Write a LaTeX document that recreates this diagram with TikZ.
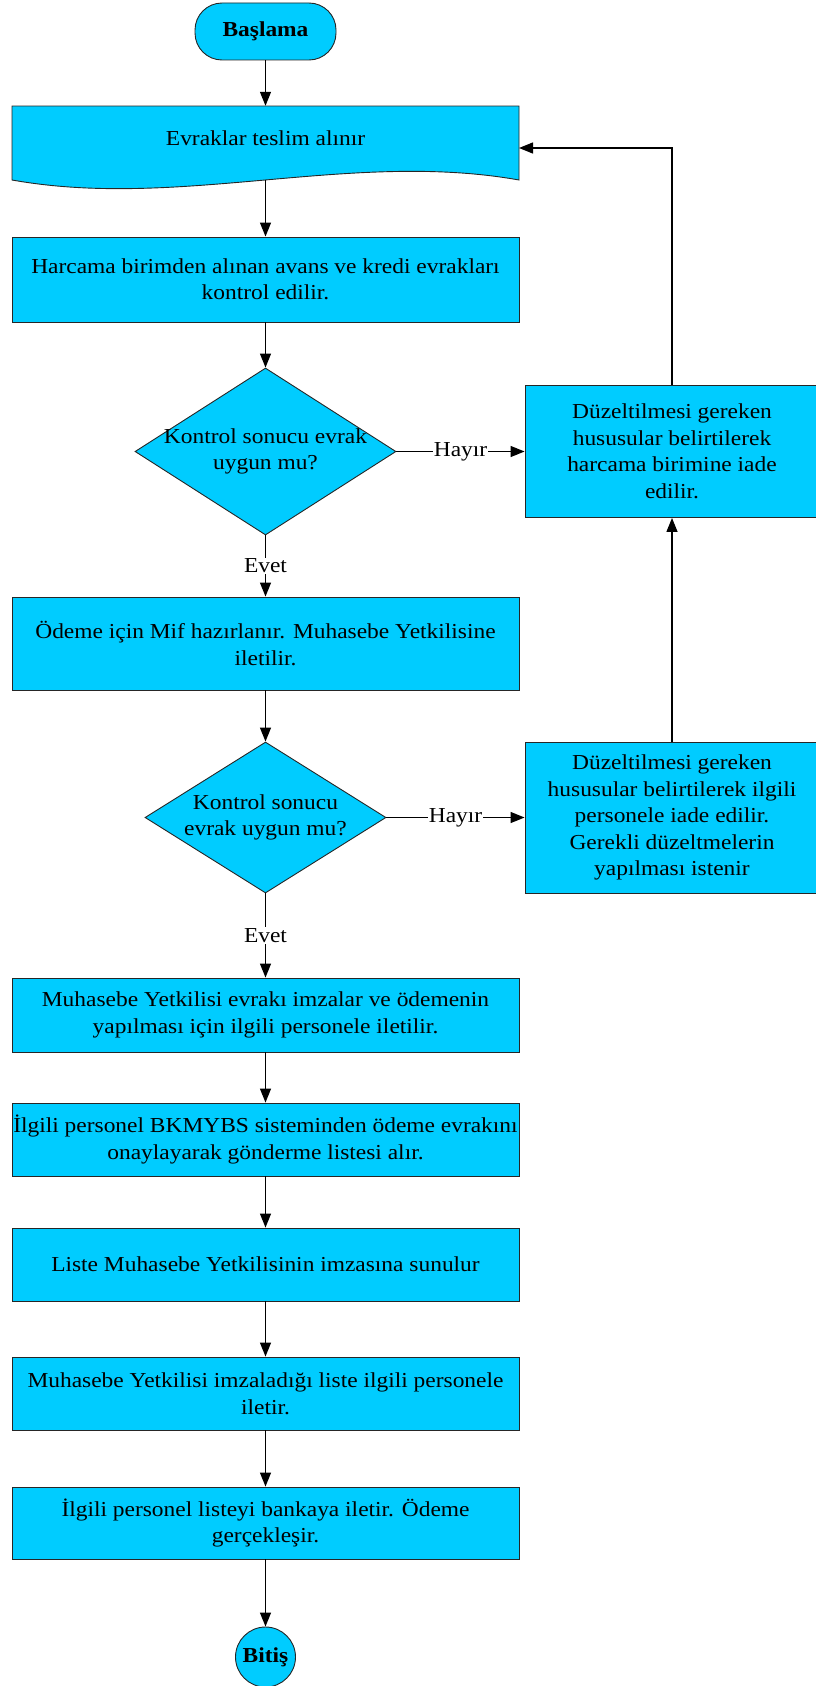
\documentclass[tikz,border=0pt]{standalone}
\usepackage{fontspec}
\setmainfont[FakeStretch=1.1]{Liberation Serif}
\usetikzlibrary{arrows.meta,shapes.geometric}
\definecolor{boxblue}{HTML}{00CCFF}
\definecolor{edge}{HTML}{262626}

\begin{document}
\begin{tikzpicture}[x=1pt,y=-1pt,
    font=\fontsize{21.3}{26.5}\selectfont,
    base/.style={draw=edge,line width=0.9pt,fill=boxblue,align=center,inner sep=0pt},
    proc/.style={base,rectangle,minimum width=507pt,minimum height=#1},
    side/.style={base,rectangle,minimum width=294pt,minimum height=#1},
    arr/.style={-{Triangle[length=14pt,width=11pt]},line width=1.3pt},
    lbl/.style={fill=white,inner sep=1pt}]
  \useasboundingbox (0,0) rectangle (816,1686);

  % main column
  \node[base,rectangle,rounded corners=27pt,minimum width=141pt,minimum height=57pt]
    (start) at (265.5,31.5) {\textbf{Başlama}};
  \path[base] (12,106) -- (519,106) -- (519,180)
    .. controls (350,150) and (180,210) .. (12,180) -- cycle;
  \node[minimum width=507pt,minimum height=64pt,inner sep=0pt] (doc) at (265.5,138)
    {Evraklar teslim alınır};
  \coordinate (docb) at (265.5,180);
  \coordinate (docin) at (519,148);
  \node[proc=85pt] (b2) at (265.5,279.5)
    {Harcama birimden alınan avans ve kredi evrakları\\kontrol edilir.};
  \node[base,diamond,minimum width=261pt,minimum height=167pt,
    label={[align=center]center:Kontrol sonucu evrak\\uygun mu?}] (d1) at (265.5,451.5) {};
  \node[proc=93pt] (b3) at (265.5,643.5)
    {Ödeme için Mif hazırlanır. Muhasebe Yetkilisine\\iletilir.};
  \node[base,diamond,minimum width=241pt,minimum height=151pt,
    label={[align=center]center:Kontrol sonucu\\evrak uygun mu?}] (d2) at (265.5,817.5) {};
  \node[proc=74pt] (b4) at (265.5,1015)
    {Muhasebe Yetkilisi evrakı imzalar ve ödemenin\\yapılması için ilgili personele iletilir.};
  \node[proc=73pt] (b5) at (265.5,1139.5)
    {İlgili personel BKMYBS sisteminden ödeme evrakını\\onaylayarak gönderme listesi alır.};
  \node[proc=73pt] (b6) at (265.5,1264.5)
    {Liste Muhasebe Yetkilisinin imzasına sunulur};
  \node[proc=73pt] (b7) at (265.5,1393.5)
    {Muhasebe Yetkilisi imzaladığı liste ilgili personele\\iletir.};
  \node[proc=72pt] (b8) at (265.5,1523)
    {İlgili personel listeyi bankaya iletir. Ödeme\\gerçekleşir.};
  \node[base,circle,minimum size=60pt] (stop) at (265.5,1657) {\textbf{Bitiş}};

  % right column
  \node[side=132pt] (rb1) at (672,451.5)
    {Düzeltilmesi gereken\\hususular belirtilerek\\harcama birimine iade\\edilir.};
  \node[side=151pt] (rb2) at (672,817.5)
    {Düzeltilmesi gereken\\hususular belirtilerek ilgili\\personele iade edilir.\\Gerekli düzeltmelerin\\yapılması istenir};

  \draw[arr] (start) -- (doc);
  \draw[arr] (docb) -- (b2);
  \draw[arr] (b2) -- (d1);
  \draw[arr] (d1) -- node[lbl]{Hayır} (rb1);
  \draw[arr] (d1) -- node[lbl]{Evet} (b3);
  \draw[arr] (b3) -- (d2);
  \draw[arr] (d2) -- node[lbl]{Hayır} (rb2);
  \draw[arr] (rb2) -- (rb1);
  \draw[arr] (rb1) |- (docin);
  \draw[arr] (d2) -- node[lbl]{Evet} (b4);
  \draw[arr] (b4) -- (b5);
  \draw[arr] (b5) -- (b6);
  \draw[arr] (b6) -- (b7);
  \draw[arr] (b7) -- (b8);
  \draw[arr] (b8) -- (stop);
\end{tikzpicture}
\end{document}
